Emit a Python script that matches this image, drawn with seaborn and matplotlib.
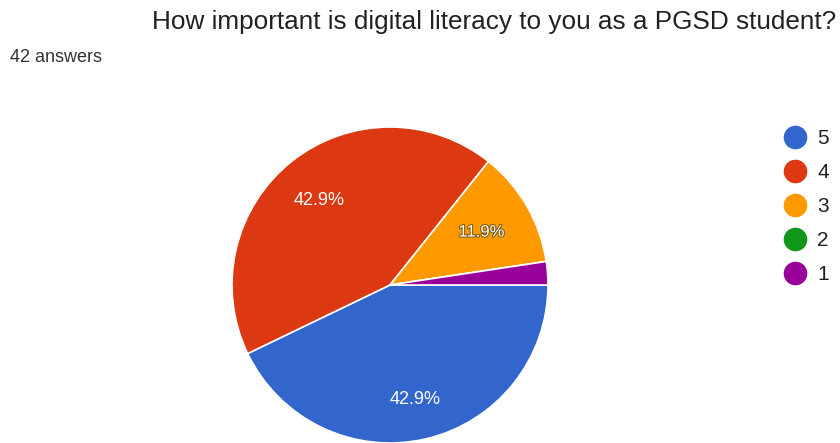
import numpy as np
import pandas as pd
import seaborn as sns
from matplotlib import pyplot as plt
from matplotlib.lines import Line2D
import matplotlib.patheffects as pe

# Data
ratings = ['5', '4', '3', '2', '1']
counts = [18, 18, 5, 0, 1]
colors = ['#3366CC', '#DC3912', '#FF9900', '#109618', '#990099']

title = 'How important is digital literacy to you as a PGSD student?'
subtitle = '42 answers'

sns.set_theme(style='white')
plt.rcParams['font.family'] = ['Liberation Sans', 'DejaVu Sans']

df = pd.DataFrame({'rating': ratings, 'count': counts, 'color': colors})

fig = plt.figure(figsize=(8.4, 4.43), dpi=100)
fig.patch.set_facecolor('white')

# pie axes, centered at (390, 285) px, radius ~158 px
ax = fig.add_axes([232 / 840, 0 / 443, 316 / 840, 316 / 443])

def pct_label(p):
    return '%.1f%%' % p if p >= 5 else ''

wedges, texts, autotexts = ax.pie(df['count'], colors=df['color'], startangle=0,
                                  counterclock=False, autopct=pct_label, pctdistance=0.72,
                                  wedgeprops=dict(edgecolor='white', linewidth=1.2),
                                  textprops=dict(color='white', fontsize=13))
ax.set_xlim(-1, 1)
ax.set_ylim(-1, 1)
ax.set_aspect('equal')

# nudge labels a little lower, like the google forms chart
for t in autotexts:
    x, y = t.get_position()
    if t.get_text() == '11.9%':
        # orange slice label has a dark outline
        t.set_fontsize(12)
        t.set_path_effects([pe.withStroke(linewidth=1.5, foreground='#7a5a10')])
        t.set_position((x - 0.045, y - 0.025))
    else:
        t.set_position((x, y - 0.025))

fig.text(152 / 840, 1 - 22 / 443, title, fontsize=18.8, color='#212121',
         va='center', ha='left')
fig.text(10 / 840, 1 - 58 / 443, subtitle, fontsize=13, color='#333333',
         va='center', ha='left')

handles = [Line2D([], [], marker='o', linestyle='', markersize=16,
                  markerfacecolor=c, markeredgecolor=c) for c in colors]
fig.legend(handles, ratings, loc='upper left', bbox_to_anchor=(782 / 840, 1 - 129 / 443),
           frameon=False, fontsize=15, labelspacing=0.72, handletextpad=0.5,
           handlelength=1.2, borderaxespad=0, borderpad=0, labelcolor='#212121')

fig.savefig('out.png', dpi=100, facecolor='white')
